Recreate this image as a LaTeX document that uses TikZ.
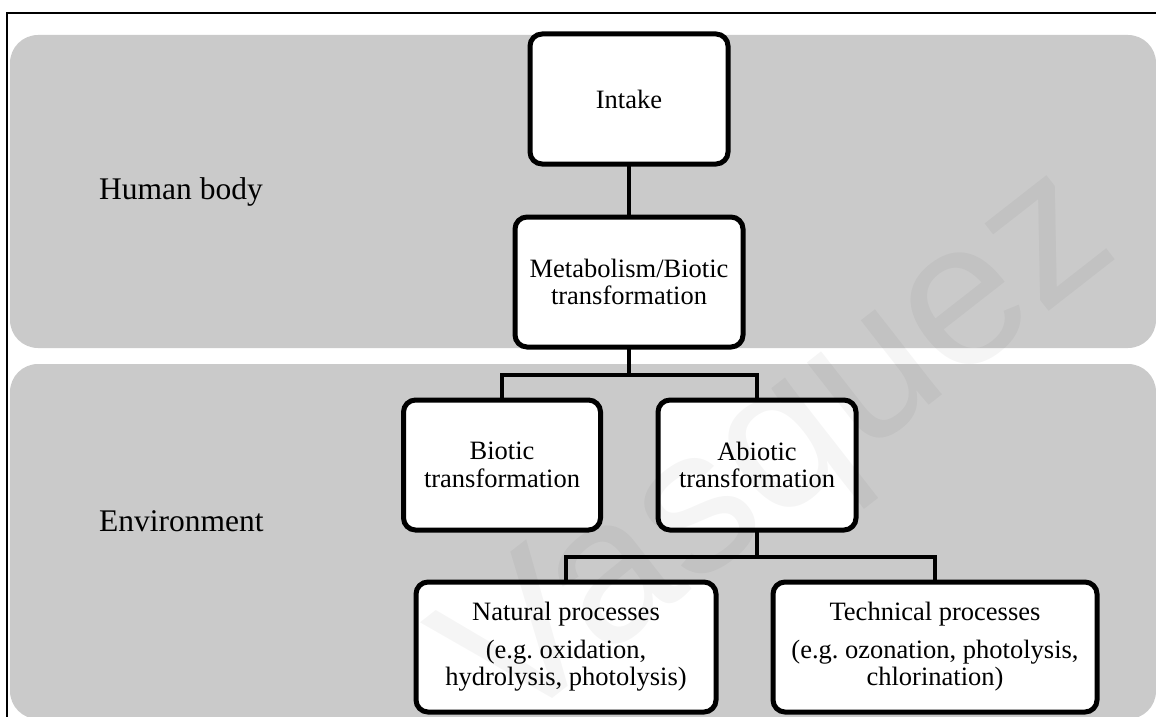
\documentclass[tikz,border=0pt]{standalone}
\usepackage{fontspec}
\setmainfont{Liberation Serif}
\newfontfamily\wmfont{Liberation Sans}
\definecolor{bandgray}{HTML}{CACACA}
\frenchspacing

\begin{document}
\begin{tikzpicture}[
  x=1pt, y=-1pt,
  band/.style={fill=bandgray, rounded corners=28pt},
  procbox/.style={draw, line width=5pt, fill=white, rounded corners=12pt,
    inner sep=0pt, outer sep=0pt, align=center, minimum height=130pt,
    font=\fontsize{26.5}{27.5}\selectfont},
  conn/.style={line width=4.5pt},
  lbl/.style={anchor=west, inner sep=0pt, font=\fontsize{31.5}{36}\selectfont},
  wm/.style={font=\wmfont\fontsize{205}{205}\selectfont, text=black, text opacity=0.04},
]

\useasboundingbox (0,0) rectangle (1156,717);

% Frame
\draw[line width=2pt] (7,720) -- (7,13) -- (1160,13);

% Bands
\fill[band] (10,35) rectangle (1156,348);
\fill[band] (10,364) rectangle (1156,719);

% Band labels
\node[lbl] (human) at (99,192) {Human body};
\node[lbl] (env) at (99,521) {Environment};

% Boxes
\node[procbox, minimum width=198pt] (intake) at (629,99) {Intake};
\node[procbox, minimum width=228pt] (metab) at (629,282) {Metabolism/Biotic\\transformation};
\node[procbox, minimum width=197pt] (biotic) at (502,465) {Biotic\\transformation};
\node[procbox, minimum width=198pt] (abiotic) at (757,465) {Abiotic\\transformation};
\node[procbox, minimum width=300pt] (natural) at (566,647)
  {Natural processes\\[10pt](e.g. oxidation,\\hydrolysis, photolysis)};
\node[procbox, minimum width=324pt] (technical) at (935,647)
  {Technical processes\\[10pt](e.g. ozonation, photolysis,\\chlorination)};

% Connectors
\coordinate (split1) at (629,375);
\coordinate (split2) at (757,557);
\draw[conn] (intake) -- (metab);
\draw[conn] (metab.south) -- (split1);
\draw[conn] (biotic.north) |- (split1) -| (abiotic.north);
\draw[conn] (abiotic.south) -- (split2);
\draw[conn] (natural.north) |- (split2) -| (technical.north);

% Watermark
\node[wm, rotate=38] (mark) at (785,455) {Vasquez};

\end{tikzpicture}
\end{document}
